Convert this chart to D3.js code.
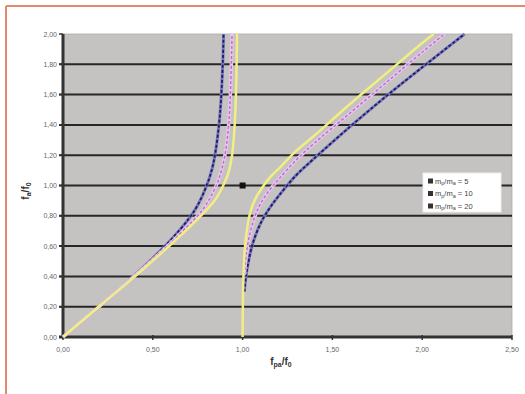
<html>
<head>
<script src="https://d3js.org/d3.v7.min.js"></script>
<style>
  body { margin: 0; background: white; }
  .ticklabel { font-family: "Liberation Sans", Arial, sans-serif; font-size: 7px; fill: #666; }
  .title { font-family: "Liberation Sans", Arial, sans-serif; font-size: 10px; font-weight: bold; fill: #333; }
  .legtext { font-family: "Liberation Sans", Arial, sans-serif; font-size: 7.5px; fill: #444; }
</style>
</head>
<body>
<svg id="chart" width="525" height="394"></svg>
<script>
// curves: [x, y] pairs
const lowBlue = [[0,0],[0.3,0.30],[0.4,0.41],[0.5,0.52],[0.6,0.64],[0.7,0.78],[0.75,0.87],[0.8,1.00],[0.83,1.11],[0.85,1.23],[0.87,1.42],[0.88,1.57],[0.89,1.82],[0.894,2.0]];
const upBlue = [[1.01,0.30],[1.02,0.41],[1.04,0.54],[1.06,0.63],[1.1,0.75],[1.15,0.85],[1.2,0.93],[1.3,1.07],[1.4,1.18],[1.6,1.39],[1.8,1.59],[2.0,1.78],[2.236,2.0]];
const lowPurple = [[0,0],[0.3,0.30],[0.4,0.405],[0.5,0.51],[0.6,0.62],[0.7,0.74],[0.75,0.80],[0.8,0.88],[0.85,0.99],[0.88,1.09],[0.9,1.19],[0.92,1.37],[0.93,1.55],[0.94,1.92],[0.941,2.0]];
const upPurple = [[1.01,0.41],[1.02,0.54],[1.04,0.68],[1.07,0.80],[1.1,0.88],[1.15,0.97],[1.2,1.04],[1.3,1.17],[1.4,1.28],[1.6,1.48],[1.8,1.68],[2.0,1.88],[2.125,2.0]];
const lowYellow = [[0,0],[0.2,0.20],[0.4,0.40],[0.6,0.61],[0.7,0.72],[0.8,0.84],[0.85,0.91],[0.9,1.02],[0.92,1.08],[0.94,1.19],[0.95,1.30],[0.96,1.50],[0.965,1.70],[0.969,2.0]];
const upYellow = [[1.0,0],[1.002,0.27],[1.005,0.41],[1.01,0.54],[1.02,0.67],[1.04,0.81],[1.07,0.91],[1.1,0.97],[1.15,1.05],[1.2,1.11],[1.3,1.23],[1.4,1.33],[1.6,1.54],[1.8,1.74],[2.0,1.94],[2.064,2.0]];
const marker = [[1.0, 1.0]];
const seriesNames = ["mp/ma = 5", "mp/ma = 10", "mp/ma = 20"];
const xTicks = [0, 0.5, 1.0, 1.5, 2.0, 2.5];
const yTicks = [0, 0.2, 0.4, 0.6, 0.8, 1.0, 1.2, 1.4, 1.6, 1.8, 2.0];

const svg = d3.select("#chart");
const fmt = v => d3.format(".2f")(v).replace(".", ",");

// outer frame (top + left only)
svg.append("line").attr("x1",6).attr("y1",6).attr("x2",525).attr("y2",6)
  .attr("stroke","#e8876b").attr("stroke-width",2);
svg.append("line").attr("x1",6).attr("y1",6).attr("x2",6).attr("y2",394)
  .attr("stroke","#e8876b").attr("stroke-width",2);

const x = d3.scaleLinear().domain([0, 2.5]).range([63, 512]);
const y = d3.scaleLinear().domain([0, 2]).range([337, 34]);

// plot area
svg.append("rect").attr("x", x(0)).attr("y", y(2)).attr("width", x(2.5) - x(0)).attr("height", y(0) - y(2))
  .attr("fill", "#c5c3c1").attr("stroke", "#aaa").attr("stroke-width", 0.8);

// gridlines
svg.append("g").selectAll("line").data(yTicks.filter(d => d > 0 && d < 2))
  .join("line")
  .attr("x1", x(0) - 4).attr("x2", x(2.5))
  .attr("y1", d => y(d)).attr("y2", d => y(d))
  .attr("stroke", "#262626").attr("stroke-width", 2);

// axes
svg.append("line").attr("x1", x(0)).attr("x2", x(0)).attr("y1", y(2)).attr("y2", y(0) + 1)
  .attr("stroke", "#333").attr("stroke-width", 3);
svg.append("line").attr("x1", x(0) - 4).attr("x2", x(2.5)).attr("y1", y(0)).attr("y2", y(0))
  .attr("stroke", "#333").attr("stroke-width", 3);
svg.append("g").selectAll("line").data(yTicks)
  .join("line").attr("x1", x(0) - 4).attr("x2", x(0)).attr("y1", d => y(d)).attr("y2", d => y(d))
  .attr("stroke", "#333").attr("stroke-width", 1.5);
svg.append("g").selectAll("line").data(xTicks)
  .join("line").attr("x1", d => x(d)).attr("x2", d => x(d)).attr("y1", y(0) - 2).attr("y2", y(0) + 3)
  .attr("stroke", "#333").attr("stroke-width", 1.5);

svg.append("g").selectAll("text").data(yTicks)
  .join("text").attr("class", "ticklabel")
  .attr("x", x(0) - 6).attr("y", d => y(d) + 2.5).attr("text-anchor", "end")
  .text(fmt);
svg.append("g").selectAll("text").data(xTicks)
  .join("text").attr("class", "ticklabel")
  .attr("x", d => x(d)).attr("y", y(0) + 15).attr("text-anchor", "middle")
  .text(fmt);

// axis titles
const xt = svg.append("text").attr("class", "title").attr("x", 281).attr("y", 365).attr("text-anchor", "middle");
xt.append("tspan").text("f");
xt.append("tspan").attr("font-size", "7px").attr("dy", 2).text("pa");
xt.append("tspan").attr("dy", -2).text("/f");
xt.append("tspan").attr("font-size", "7px").attr("dy", 2).text("0");
const yt = svg.append("text").attr("class", "title").attr("transform", "translate(29,191) rotate(-90)").attr("text-anchor", "middle");
yt.append("tspan").text("f");
yt.append("tspan").attr("font-size", "7px").attr("dy", 2).text("a");
yt.append("tspan").attr("dy", -2).text("/f");
yt.append("tspan").attr("font-size", "7px").attr("dy", 2).text("0");

// curves
const line = d3.line().x(d => x(d[0])).y(d => y(d[1])).curve(d3.curveCatmullRom);
const plot = svg.append("g");
const styles = [
  { halo: "#7a78b8", dash: "#1e1c6e", hw: 3, dw: 1.8 },
  { halo: "#e4c6ee", dash: "#c46ac4", hw: 3.5, dw: 1.4 },
  { halo: null, dash: "#f2ee82", hw: 0, dw: 2.5 }
];
const curves = [[lowBlue, upBlue], [lowPurple, upPurple], [lowYellow, upYellow]];
curves.forEach((pair, i) => {
  const s = styles[i];
  pair.forEach(c => {
    if (s.halo) {
      plot.append("path").attr("d", line(c)).attr("fill", "none")
        .attr("stroke", s.halo).attr("stroke-width", s.hw);
      plot.append("path").attr("d", line(c)).attr("fill", "none")
        .attr("stroke", s.dash).attr("stroke-width", s.dw).attr("stroke-dasharray", "3,2");
    } else {
      plot.append("path").attr("d", line(c)).attr("fill", "none")
        .attr("stroke", s.dash).attr("stroke-width", s.dw);
    }
  });
});

plot.selectAll("rect.mk").data(marker).join("rect").attr("class", "mk")
  .attr("x", d => x(d[0]) - 3).attr("y", d => y(d[1]) - 3).attr("width", 6).attr("height", 6)
  .attr("fill", "#111");

// legend
const leg = svg.append("g").attr("transform", "translate(423,173)");
leg.append("rect").attr("width", 78).attr("height", 39).attr("fill", "white").attr("stroke", "#eee");
const legColors = ["#1e1c6e", "#c46ac4", "#d8d060"];
seriesNames.forEach((n, i) => {
  const g = leg.append("g").attr("transform", `translate(5,${8 + i * 12.5})`);
  g.append("rect").attr("x", 0).attr("y", -2.5).attr("width", 5).attr("height", 5).attr("fill", "#333");
  const t = g.append("text").attr("class", "legtext").attr("x", 7).attr("y", 2.5);
  t.append("tspan").text("m");
  t.append("tspan").attr("font-size", "5.5px").attr("dy", 1.5).text("p");
  t.append("tspan").attr("dy", -1.5).text("/m");
  t.append("tspan").attr("font-size", "5.5px").attr("dy", 1.5).text("a");
  t.append("tspan").attr("dy", -1.5).text(" = " + n.split("= ")[1]);
});
</script>
</body>
</html>
